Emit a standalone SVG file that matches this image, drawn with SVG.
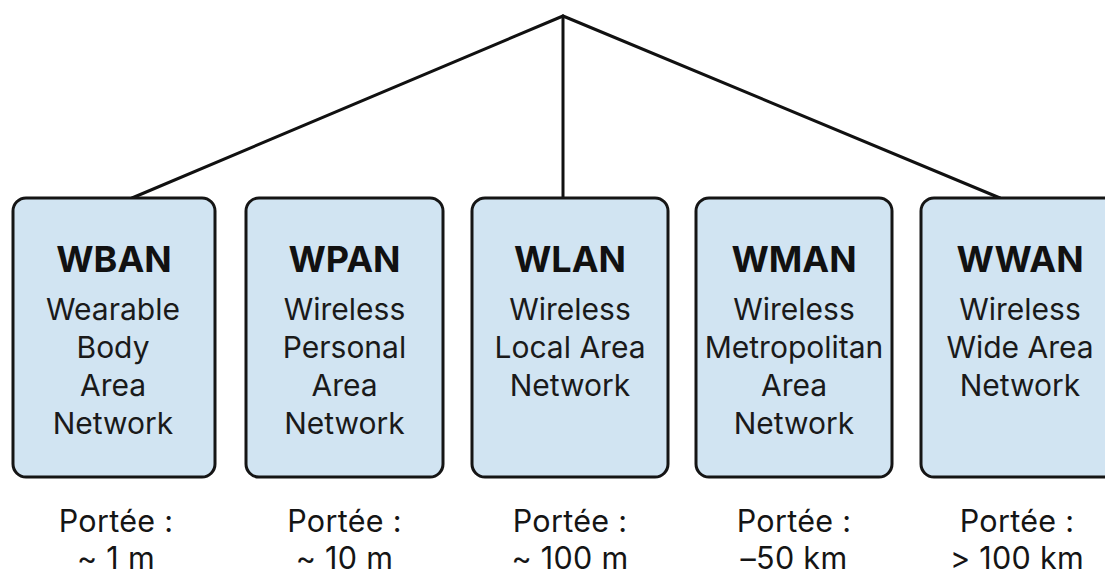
<svg xmlns="http://www.w3.org/2000/svg" width="1105" height="576" viewBox="0 0 1105 576">
  <style>
    .box { fill: #d1e4f2; stroke: #151515; stroke-width: 3; }
    .link { stroke: #111111; stroke-width: 3; fill: none; stroke-linecap: round; }
    .title { font-family: Inter, "Liberation Sans", sans-serif; font-weight: 700; font-size: 36px; fill: #111111; text-anchor: middle; }
    .sub { font-family: Inter, "Liberation Sans", sans-serif; font-size: 30px; fill: #1a1a1a; text-anchor: middle; }
    .range { font-family: Inter, "Liberation Sans", sans-serif; font-size: 30.5px; letter-spacing: 0.3px; fill: #151515; text-anchor: middle; }
  </style>
  <rect width="1105" height="576" fill="#ffffff"/>

  <!-- tree links from the common root to three of the network boxes -->
  <g id="connectors">
    <line class="link" x1="563" y1="16" x2="132" y2="198"/>
    <line class="link" x1="563" y1="16" x2="563" y2="198"/>
    <line class="link" x1="563" y1="16" x2="1000" y2="198"/>
  </g>

  <g id="wban">
    <rect class="box" x="13" y="198" width="202" height="279" rx="13"/>
    <text class="title" x="114" y="272">WBAN</text>
    <text class="sub" x="113" y="320">Wearable</text>
    <text class="sub" x="113" y="358">Body</text>
    <text class="sub" x="113" y="396">Area</text>
    <text class="sub" x="113" y="434">Network</text>
    <text class="range" x="116" y="532">Portée :</text>
    <text class="range" x="116" y="569">~ 1 m</text>
  </g>

  <g id="wpan">
    <rect class="box" x="246" y="198" width="197" height="279" rx="13"/>
    <text class="title" x="344.5" y="272">WPAN</text>
    <text class="sub" x="344.5" y="320">Wireless</text>
    <text class="sub" x="344.5" y="358">Personal</text>
    <text class="sub" x="344.5" y="396">Area</text>
    <text class="sub" x="344.5" y="434">Network</text>
    <text class="range" x="344.5" y="532">Portée :</text>
    <text class="range" x="344.5" y="569">~ 10 m</text>
  </g>

  <g id="wlan">
    <rect class="box" x="472" y="198" width="196" height="279" rx="13"/>
    <text class="title" x="570" y="272">WLAN</text>
    <text class="sub" x="570" y="320">Wireless</text>
    <text class="sub" x="570" y="358">Local Area</text>
    <text class="sub" x="570" y="396">Network</text>
    <text class="range" x="570" y="532">Portée :</text>
    <text class="range" x="570" y="569">~ 100 m</text>
  </g>

  <g id="wman">
    <rect class="box" x="696" y="198" width="196" height="279" rx="13"/>
    <text class="title" x="794" y="272">WMAN</text>
    <text class="sub" x="794" y="320">Wireless</text>
    <text class="sub" x="794" y="358">Metropolitan</text>
    <text class="sub" x="794" y="396">Area</text>
    <text class="sub" x="794" y="434">Network</text>
    <text class="range" x="794" y="532">Portée :</text>
    <text class="range" x="794" y="569">–50 km</text>
  </g>

  <g id="wwan">
    <rect class="box" x="921" y="198" width="200" height="279" rx="13"/>
    <text class="title" x="1020" y="272">WWAN</text>
    <text class="sub" x="1020" y="320">Wireless</text>
    <text class="sub" x="1020" y="358">Wide Area</text>
    <text class="sub" x="1020" y="396">Network</text>
    <text class="range" x="1017" y="532">Portée :</text>
    <text class="range" x="1017" y="569">&gt; 100 km</text>
  </g>
</svg>
